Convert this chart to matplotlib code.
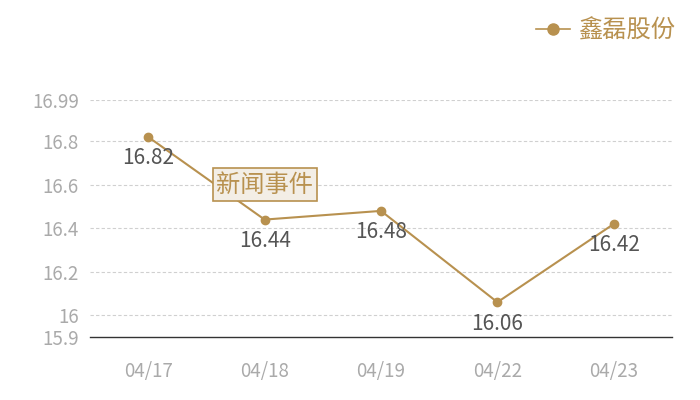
import matplotlib
matplotlib.use('Agg')
import matplotlib.pyplot as plt
from matplotlib.lines import Line2D

plt.rcParams['font.family'] = ['Noto Sans CJK SC', 'DejaVu Sans']

dates = ['04/17', '04/18', '04/19', '04/22', '04/23']
prices = [16.82, 16.44, 16.48, 16.06, 16.42]
yticks = [15.9, 16, 16.2, 16.4, 16.6, 16.8, 16.99]
ytick_labels = ['15.9', '16', '16.2', '16.4', '16.6', '16.8', '16.99']
series_name = '鑫磊股份'
event_label = '新闻事件'
event_date = '04/18'
event_value = 16.6

gold = '#b8914f'

fig = plt.figure(figsize=(7, 4), dpi=100)
ax = fig.add_axes([90 / 700, 1 - 337 / 400, 582 / 700, 237 / 400])

x = list(range(len(dates)))
ax.plot(x, prices, color=gold, lw=1.5, marker='o', ms=6, zorder=3)
for xi, v in zip(x, prices):
    ax.annotate('%.2f' % v, (xi, v), xytext=(0, -15.5), textcoords='offset points',
                ha='center', va='center', fontsize=15, color='#555555')

ex = dates.index(event_date)
ax.text(ex, event_value, event_label, ha='center', va='center', fontsize=17.5, color=gold,
        bbox=dict(boxstyle='square,pad=0.14', fc='#f3eee6', ec=gold, lw=1.2), zorder=4)

ax.set_xlim(-0.5, len(dates) - 0.5)
ax.set_ylim(15.9, 16.99)
ax.set_xticks(x)
ax.set_xticklabels(dates)
ax.set_yticks(yticks)
ax.set_yticklabels(ytick_labels)
ax.tick_params(axis='both', length=0, labelsize=13.5, colors='#aaaaaa')
ax.tick_params(axis='x', pad=17)
ax.tick_params(axis='y', pad=8)
for t in yticks[1:]:
    ax.axhline(t, color='#d0d0d0', lw=0.8, ls=(0, (3, 2)), zorder=1)

for s in ['top', 'right', 'left']:
    ax.spines[s].set_visible(False)
ax.spines['bottom'].set_color('#333333')
ax.spines['bottom'].set_linewidth(1)

handle = Line2D([], [], color=gold, lw=1.2, marker='o', ms=8)
leg = fig.legend([handle], [series_name], loc='upper right', bbox_to_anchor=(0.995, 1.01),
                 frameon=False, fontsize=17.5, handlelength=1.4, handletextpad=0.3)
for t in leg.get_texts():
    t.set_color(gold)

fig.savefig('out.png', dpi=100)
